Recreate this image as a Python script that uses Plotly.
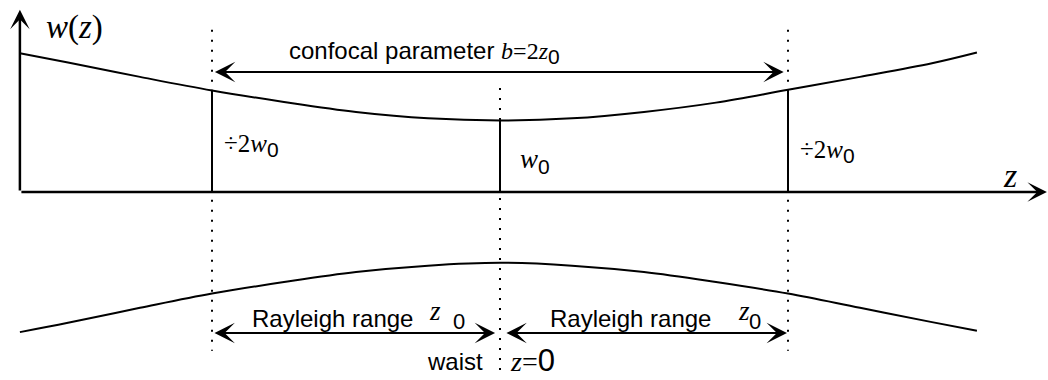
import plotly.graph_objects as go

# ---- data (z in units of z0, w in units of w0) ----
z_beam = [-1.667, -1.5, -1.25, -1.0, -0.75, -0.5, -0.25, 0.0, 0.25, 0.5, 0.75, 1.0, 1.25, 1.5, 1.656]
w_upper = [1.94, 1.81, 1.61, 1.42, 1.26, 1.12, 1.03, 1.00, 1.03, 1.12, 1.25, 1.43, 1.61, 1.80, 1.95]
w_lower = [-1.96, -1.83, -1.62, -1.42, -1.26, -1.12, -1.03, -0.99, -1.03, -1.12, -1.26, -1.42, -1.62, -1.82, -1.94]

plane_z = [-1.0, 0.0, 1.0]        # -z0, waist, +z0
plane_w = [1.42, 1.00, 1.43]      # beam radius at those planes
dotted_top = [2.27, 1.455, 2.27]
dotted_bot = [-2.22, -2.60, -2.22]

SANS = "Liberation Sans"
SERIF = "Liberation Serif"
INK = "black"

fig = go.Figure()

# dotted guide lines
dx, dy = [], []
for z, t, b in zip(plane_z, dotted_top, dotted_bot):
    dx += [z, z, None]
    dy += [t, b, None]
fig.add_trace(go.Scatter(x=dx, y=dy, mode="lines",
                         line=dict(color=INK, width=2, dash="2px,8px"),
                         hoverinfo="skip", showlegend=False))

# beam envelope
fig.add_trace(go.Scatter(x=z_beam, y=w_upper, mode="lines", line=dict(color=INK, width=2, shape="spline"),
                         hoverinfo="skip", showlegend=False))
fig.add_trace(go.Scatter(x=z_beam, y=w_lower, mode="lines", line=dict(color=INK, width=2, shape="spline"),
                         hoverinfo="skip", showlegend=False))

# solid radius markers
sx, sy = [], []
for z, w in zip(plane_z, plane_w):
    sx += [z, z, None]
    sy += [0, w, None]
fig.add_trace(go.Scatter(x=sx, y=sy, mode="lines", line=dict(color=INK, width=2),
                         hoverinfo="skip", showlegend=False))

ann = []

def arrow(x0, y0, x1, y1, width=2, size=1.7, both=False):
    d = dict(x=x1, y=y1, ax=x0, ay=y0, xref="x", yref="y", axref="x", ayref="y",
             text="", showarrow=True, arrowhead=3, arrowsize=size, arrowwidth=width,
             arrowcolor=INK, standoff=0, startstandoff=0)
    if both:
        d.update(arrowside="end+start", startarrowhead=3, startarrowsize=size)
    return d

origin_z = z_beam[0]
# axes
ann.append(arrow(origin_z, 0, origin_z, 2.55, width=2.5, size=1.3))
ann.append(arrow(origin_z, 0, 1.899, 0, width=2.5, size=1.3))
# confocal parameter arrow
ann.append(arrow(-0.995, 1.678, 0.985, 1.678, both=True))
# Rayleigh range arrows
ann.append(arrow(-0.9965, -1.972, -0.017, -1.972, both=True))
ann.append(arrow(0.017, -1.972, 0.9965, -1.972, both=True))

def label(x, y, text, font, size, xanchor="left"):
    return dict(x=x, y=y, xref="x", yref="y", text=text, showarrow=False,
                xanchor=xanchor, yanchor="middle", font=dict(family=font, size=size, color=INK))

SUB0 = "<sub><span style='font-family:Liberation Sans;font-size:21px'>0</span></sub>"

ann.append(label(-1.585, 2.30, "<i>w</i>(<i>z</i>)", SERIF, 33))
ann.append(label(1.738, 0.234, "<i>z</i>", SERIF, 34))
ann.append(label(-0.7396, 1.958,
                 "confocal parameter <span style='font-family:Liberation Serif'><i>b</i>=2<i>z</i></span>"
                 + SUB0, SANS, 24))
ann.append(label(-0.9653, 0.657, "÷2<i>w</i>" + SUB0, SERIF, 25))
ann.append(label(1.0347, 0.573, "÷2<i>w</i>" + SUB0, SERIF, 25))
ann.append(label(0.0625, 0.434, "<i>w</i>" + SUB0, SERIF, 27))

ann.append(label(-0.868, -1.776, "Rayleigh range", SANS, 24))
ann.append(label(-0.2535, -1.660, "<i>z</i>", SERIF, 27))
ann.append(label(-0.170, -1.818, "0", SANS, 22))
ann.append(label(0.1667, -1.776, "Rayleigh range", SANS, 24))
ann.append(label(0.819, -1.660, "<i>z</i>", SERIF, 27))
ann.append(label(0.857, -1.818, "0", SANS, 22))

ann.append(label(-0.052, -2.364, "waist", SANS, 24, xanchor="right"))
ann.append(label(0.028, -2.35, "<i>z</i>=<span style='font-family:Liberation Sans;font-size:31px'>0</span>", SERIF, 28))

fig.update_layout(
    width=1048, height=380, autosize=False,
    margin=dict(l=0, r=0, t=0, b=0),
    paper_bgcolor="white", plot_bgcolor="white",
    xaxis=dict(range=[-1.7361, 1.9028], visible=False, fixedrange=True),
    yaxis=dict(range=[-2.6294, 2.6853], visible=False, fixedrange=True),
    annotations=ann,
    showlegend=False,
)

fig.write_html("out.html")
